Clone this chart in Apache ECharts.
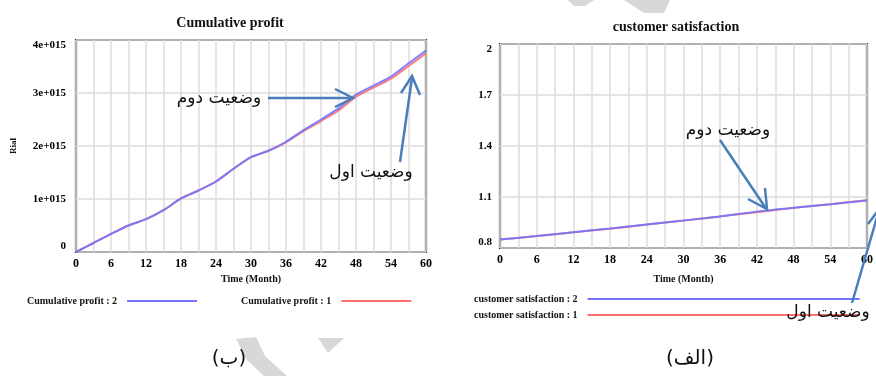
<!DOCTYPE html>
<html>
<head>
<meta charset="utf-8">
<script src="https://cdn.jsdelivr.net/npm/echarts@6/dist/echarts.min.js"></script>
<style>
  html, body { margin: 0; padding: 0; background: #fff; }
  #chart { width: 876px; height: 376px; }
</style>
</head>
<body>
<div id="chart"></div>
<script>
// Time axis (months) shared by both simulation runs
const profitMonths = [0, 3, 6, 9, 12, 15, 18, 21, 24, 27, 30, 33, 36, 39, 42, 45, 48, 51, 54, 57, 60];
// Cumulative profit (Rial), run 2 and run 1
const profitRun2 = [0, 0.17e15, 0.34e15, 0.50e15, 0.62e15, 0.79e15, 1.01e15, 1.16e15, 1.33e15, 1.57e15, 1.79e15,
  1.91e15, 2.08e15, 2.30e15, 2.50e15, 2.71e15, 2.97e15, 3.14e15, 3.31e15, 3.56e15, 3.80e15];
const profitRun1 = [0, 0.17e15, 0.34e15, 0.50e15, 0.62e15, 0.79e15, 1.01e15, 1.16e15, 1.33e15, 1.57e15, 1.79e15,
  1.91e15, 2.07e15, 2.28e15, 2.47e15, 2.67e15, 2.93e15, 3.10e15, 3.27e15, 3.51e15, 3.75e15];

// Customer satisfaction, run 2 and run 1
const satMonths = [0, 6, 12, 18, 24, 30, 36, 42, 48, 54, 60];
const satRun2 = [0.850, 0.870, 0.893, 0.915, 0.938, 0.962, 0.985, 1.014, 1.037, 1.058, 1.080];
const satRun1 = [0.850, 0.870, 0.892, 0.913, 0.938, 0.961, 0.986, 1.010, 1.036, 1.058, 1.081];

// Tick values
const profitTicks = [0, 1e15, 2e15, 3e15, 4e15];
const satTicks = [0.8, 1.1, 1.4, 1.7, 2.0];

// Series / legend names and annotation texts
const nameProfit2 = 'Cumulative profit : 2';
const nameProfit1 = 'Cumulative profit : 1';
const nameSat2 = 'customer satisfaction : 2';
const nameSat1 = 'customer satisfaction : 1';
const labelSecond = 'وضعیت دوم';
const labelFirst = 'وضعیت اول';

const serif = '"Liberation Serif", "DejaVu Serif", serif';
const persian = '"DejaVu Sans", sans-serif';
const blue = '#7474ff';
const red = '#ff6e6e';
const arrowBlue = '#4a7dbc';

const zip = (xs, ys) => xs.map((x, i) => [x, ys[i]]);

const chart = echarts.init(document.getElementById('chart'), null, { renderer: 'canvas' });

const monthAxis = (gridIndex, nameGap) => ({
  type: 'value', gridIndex, min: 0, max: 60, interval: 3,
  name: 'Time (Month)', nameLocation: 'middle', nameGap,
  nameTextStyle: { fontFamily: serif, fontWeight: 'bold', fontSize: 10, color: '#111' },
  axisLine: { show: false }, axisTick: { show: false },
  axisLabel: {
    margin: 6, fontFamily: serif, fontWeight: 'bold', fontSize: 12, color: '#000',
    formatter: v => (v % 6 === 0 ? String(v) : '')
  },
  splitLine: { show: true, lineStyle: { color: '#dcdcdc', width: 1.5 } }
});

const lineSeries = (name, data, color, xi, yi, z) => ({
  name, type: 'line', xAxisIndex: xi, yAxisIndex: yi, data,
  showSymbol: false, symbol: 'none', smooth: 0.25, z,
  lineStyle: { color, width: 2, opacity: 0.9 }, itemStyle: { color }
});

const arrowHead = (tip, a, b) => ({
  type: 'polyline', z: 50, silent: true,
  shape: { points: [a, tip, b] },
  style: { stroke: arrowBlue, lineWidth: 2.5, fill: null }
});
const arrowShaft = (from, to) => ({
  type: 'line', z: 50, silent: true,
  shape: { x1: from[0], y1: from[1], x2: to[0], y2: to[1] },
  style: { stroke: arrowBlue, lineWidth: 2.5 }
});
const persianText = (x, y, text) => ({
  type: 'text', z: 51, silent: true, x, y,
  style: { text, font: '17px ' + persian, fill: '#111', align: 'center', verticalAlign: 'middle' }
});

chart.setOption({
  backgroundColor: '#fff',
  animation: false,
  title: [
    { text: 'Cumulative profit', left: 225, top: 11, textAlign: 'center',
      textStyle: { fontFamily: serif, fontWeight: 'bold', fontSize: 14, color: '#111' } },
    { text: 'customer satisfaction', left: 671, top: 15, textAlign: 'center',
      textStyle: { fontFamily: serif, fontWeight: 'bold', fontSize: 14, color: '#111' } }
  ],
  legend: [
    { data: [nameProfit2, nameProfit1], orient: 'horizontal', left: 22, top: 291,
      align: 'right', itemWidth: 70, itemHeight: 2, itemGap: 44, icon: 'rect',
      formatter: n => n + '  ',
      textStyle: { fontFamily: serif, fontWeight: 'bold', fontSize: 10, color: '#111' } },
    { data: [nameSat2, nameSat1], orient: 'vertical', left: 469, top: 289,
      align: 'right', itemWidth: 272, itemHeight: 2, itemGap: 6, icon: 'rect',
      formatter: n => n + '  ',
      textStyle: { fontFamily: serif, fontWeight: 'bold', fontSize: 10, color: '#111' } }
  ],
  grid: [
    { left: 76, top: 40, width: 350, height: 212, show: true, borderColor: '#2f2f2f', borderWidth: 2.2,
      backgroundColor: '#fff', containLabel: false },
    { left: 500, top: 44, width: 370, height: 204, show: true, borderColor: '#2f2f2f', borderWidth: 2.2,
      backgroundColor: '#fff', containLabel: false }
  ],
  xAxis: [monthAxis(0, 22), monthAxis(1, 26)],
  yAxis: [
    { type: 'value', gridIndex: 0, min: 0, max: 4e15, interval: 1e15,
      name: 'Rial', nameLocation: 'middle', nameGap: 58, nameRotate: 90,
      nameTextStyle: { fontFamily: serif, fontWeight: 'bold', fontSize: 9, color: '#111' },
      axisLine: { show: false }, axisTick: { show: false },
      axisLabel: { margin: 10, fontFamily: serif, fontWeight: 'bold', fontSize: 11, color: '#000',
        verticalAlignMinLabel: 'bottom', verticalAlignMaxLabel: 'top',
        formatter: v => (v === 0 ? '0' : (v / 1e15) + 'e+015') },
      splitLine: { show: true, lineStyle: { color: '#dcdcdc', width: 1.5 } } },
    { type: 'value', gridIndex: 1, min: 0.8, max: 2.0,
      axisLine: { show: false },
      axisTick: { show: false, customValues: satTicks },
      axisLabel: { margin: 8, fontFamily: serif, fontWeight: 'bold', fontSize: 11, color: '#000',
        customValues: satTicks,
        verticalAlignMinLabel: 'bottom', verticalAlignMaxLabel: 'top',
        formatter: v => String(Math.round(v * 10) / 10) },
      splitLine: { show: true, lineStyle: { color: '#dcdcdc', width: 1.5 } } }
  ],
  series: [
    lineSeries(nameProfit1, zip(profitMonths, profitRun1), red, 0, 0, 2),
    lineSeries(nameProfit2, zip(profitMonths, profitRun2), blue, 0, 0, 3),
    lineSeries(nameSat1, zip(satMonths, satRun1), red, 1, 1, 2),
    lineSeries(nameSat2, zip(satMonths, satRun2), blue, 1, 1, 3)
  ],
  graphic: [
    // faint background marks
    { type: 'polygon', z: 0, silent: true,
      shape: { points: [[236, 339], [256, 337], [265, 356], [287, 376], [264, 376], [247, 360]] },
      style: { fill: '#d8d8d8' } },
    { type: 'polygon', z: 0, silent: true,
      shape: { points: [[318, 338], [344, 338], [328, 353]] }, style: { fill: '#d8d8d8' } },
    { type: 'polygon', z: 0, silent: true,
      shape: { points: [[568, 0], [594, 0], [585, 6], [574, 6]] }, style: { fill: '#d8d8d8' } },
    { type: 'polygon', z: 0, silent: true,
      shape: { points: [[624, 0], [670, 0], [664, 13], [644, 13]] }, style: { fill: '#d8d8d8' } },

    // left chart annotations
    persianText(219, 99, labelSecond),
    arrowShaft([268, 98], [352, 98]),
    arrowHead([353, 98], [335, 89], [335, 107]),
    persianText(371, 173, labelFirst),
    arrowShaft([400, 162], [412, 78]),
    arrowHead([412, 76], [401, 93], [420, 95]),

    // right chart annotations
    persianText(728, 131, labelSecond),
    arrowShaft([720, 140], [765, 207]),
    arrowHead([767, 209], [748, 199], [765, 188]),
    persianText(828, 313, labelFirst),
    arrowShaft([852, 303], [882, 200]),
    arrowHead([880, 208], [868, 224], [895, 215]),

    // panel captions
    { type: 'text', z: 51, silent: true, x: 229, y: 359,
      style: { text: '(ب)', font: '20px ' + persian, fill: '#111', align: 'center', verticalAlign: 'middle' } },
    { type: 'text', z: 51, silent: true, x: 690, y: 359,
      style: { text: '(الف)', font: '20px ' + persian, fill: '#111', align: 'center', verticalAlign: 'middle' } }
  ]
});
</script>
</body>
</html>
